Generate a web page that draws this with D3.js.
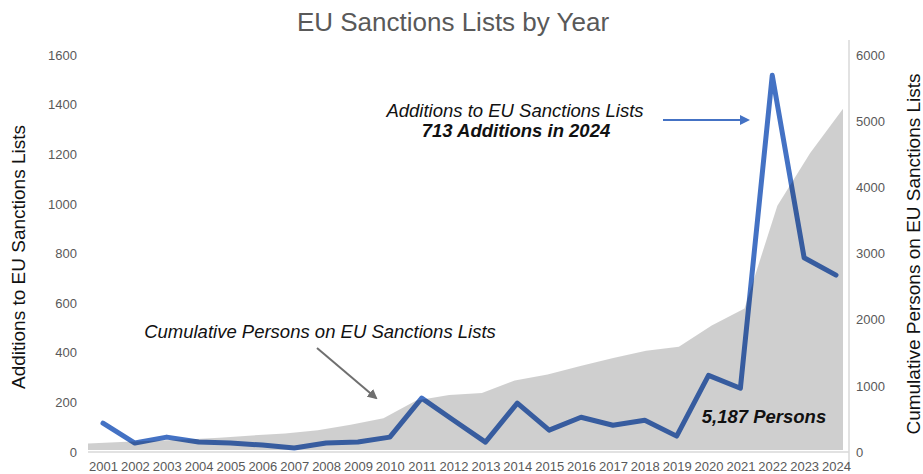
<!DOCTYPE html>
<html lang="en">
<head>
    <meta charset="UTF-8">
    <script src="https://d3js.org/d3.v7.min.js"></script>
    <style>
        body { margin: 0; background: white; }
        text { font-family: "Liberation Sans", Arial, sans-serif; }
    </style>
</head>
<body>
    <svg id="chart" width="923" height="474"></svg>
    <script>
        // data
        const years = ["2001","2002","2003","2004","2005","2006","2007","2008","2009","2010","2011","2012",
                       "2013","2014","2015","2016","2017","2018","2019","2020","2021","2022","2023","2024"];
        const additions = [116, 36, 60, 40, 36, 28, 16, 36, 40, 60, 217, 128,
                           40, 197, 88, 140, 108, 128, 64, 309, 257, 1518, 783, 713];
        const cumulative = [130, 150, 170, 190, 215, 250, 280, 330, 410, 510, 780, 860,
                            890, 1080, 1170, 1300, 1420, 1530, 1590, 1910, 2170, 3720, 4520, 5187];
        const leftTicks = [0, 200, 400, 600, 800, 1000, 1200, 1400, 1600];
        const rightTicks = [0, 1000, 2000, 3000, 4000, 5000, 6000];

        const width = 923, height = 474;
        const svg = d3.select("#chart");

        const x = d3.scalePoint().domain(years).range([103, 836]);
        const xArea = d3.scalePoint().domain(years).range([88, 843]);
        const yL = d3.scaleLinear().domain([0, 1600]).range([452, 55]);
        const yR = d3.scaleLinear().domain([0, 6000]).range([452, 55]);

        const defs = svg.append("defs");
        function marker(id, color) {
            defs.append("marker")
                .attr("id", id)
                .attr("viewBox", "0 0 10 10")
                .attr("refX", 8).attr("refY", 5)
                .attr("markerWidth", 5).attr("markerHeight", 5)
                .attr("orient", "auto")
                .append("path").attr("d", "M0,0 L10,5 L0,10 z").attr("fill", color);
        }
        marker("arrBlue", "#4472c4");
        marker("arrGray", "#6f6f6f");

        // title
        svg.append("text")
            .attr("x", 453).attr("y", 31)
            .attr("text-anchor", "middle")
            .style("font-size", "26px")
            .attr("fill", "#595959")
            .text("EU Sanctions Lists by Year");

        // additions line (drawn under the translucent area)
        const line = d3.line().x((d, i) => x(years[i])).y(d => yL(d));
        svg.append("path")
            .datum(additions)
            .attr("d", line)
            .attr("fill", "none")
            .attr("stroke", "#4472c4")
            .attr("stroke-width", 5)
            .attr("stroke-linejoin", "round")
            .attr("stroke-linecap", "round");

        // cumulative area
        const area = d3.area().x((d, i) => xArea(years[i])).y0(yR(0) - 2).y1(d => yR(d));
        svg.append("path")
            .datum(cumulative)
            .attr("d", area)
            .attr("fill", "#000")
            .attr("fill-opacity", 0.19);

        // frame lines
        svg.append("line").attr("x1", 88).attr("x2", 849).attr("y1", 452).attr("y2", 452)
            .attr("stroke", "#d9d9d9").attr("stroke-width", 1.5);
        svg.append("line").attr("x1", 849).attr("x2", 849).attr("y1", 40).attr("y2", 470)
            .attr("stroke", "#d9d9d9").attr("stroke-width", 1.5);

        // axes
        const axisL = svg.append("g").attr("transform", "translate(84,0)")
            .call(d3.axisLeft(yL).tickValues(leftTicks).tickFormat(d3.format("d")).tickSize(0).tickPadding(7));
        const axisR = svg.append("g").attr("transform", "translate(851,0)")
            .call(d3.axisRight(yR).tickValues(rightTicks).tickFormat(d3.format("d")).tickSize(0).tickPadding(5));
        const axisB = svg.append("g").attr("transform", "translate(0,462)")
            .call(d3.axisBottom(x).tickSize(0).tickPadding(0));
        [axisL, axisR, axisB].forEach(g => {
            g.select(".domain").remove();
            g.selectAll("text").attr("fill", "#595959").style("font-size", "13px")
                .style("font-family", "'Liberation Sans', Arial, sans-serif");
        });

        // axis titles
        svg.append("text")
            .attr("transform", "translate(25,257) rotate(-90)")
            .attr("text-anchor", "middle")
            .style("font-size", "19px")
            .attr("fill", "#111")
            .text("Additions to EU Sanctions Lists");
        svg.append("text")
            .attr("transform", "translate(920,254) rotate(-90)")
            .attr("text-anchor", "middle")
            .style("font-size", "19px")
            .attr("fill", "#111")
            .text("Cumulative Persons on EU Sanctions Lists");

        // annotations
        svg.append("text")
            .attr("x", 515).attr("y", 117)
            .attr("text-anchor", "middle")
            .style("font-size", "18.5px").style("font-style", "italic")
            .attr("fill", "#111")
            .text("Additions to EU Sanctions Lists");
        svg.append("text")
            .attr("x", 516).attr("y", 137)
            .attr("text-anchor", "middle")
            .style("font-size", "18.5px").style("font-style", "italic").style("font-weight", "bold")
            .attr("fill", "#111")
            .text("713 Additions in 2024");
        svg.append("line")
            .attr("x1", 663).attr("y1", 120).attr("x2", 748).attr("y2", 120)
            .attr("stroke", "#4472c4").attr("stroke-width", 2)
            .attr("marker-end", "url(#arrBlue)");

        svg.append("text")
            .attr("x", 320).attr("y", 338)
            .attr("text-anchor", "middle")
            .style("font-size", "18.5px").style("font-style", "italic")
            .attr("fill", "#111")
            .text("Cumulative Persons on EU Sanctions Lists");
        svg.append("line")
            .attr("x1", 317).attr("y1", 348).attr("x2", 376).attr("y2", 398)
            .attr("stroke", "#6f6f6f").attr("stroke-width", 2)
            .attr("marker-end", "url(#arrGray)");

        svg.append("text")
            .attr("x", 764).attr("y", 423)
            .attr("text-anchor", "middle")
            .style("font-size", "18.5px").style("font-style", "italic").style("font-weight", "bold")
            .attr("fill", "#111")
            .text("5,187 Persons");
    </script>
</body>
</html>
